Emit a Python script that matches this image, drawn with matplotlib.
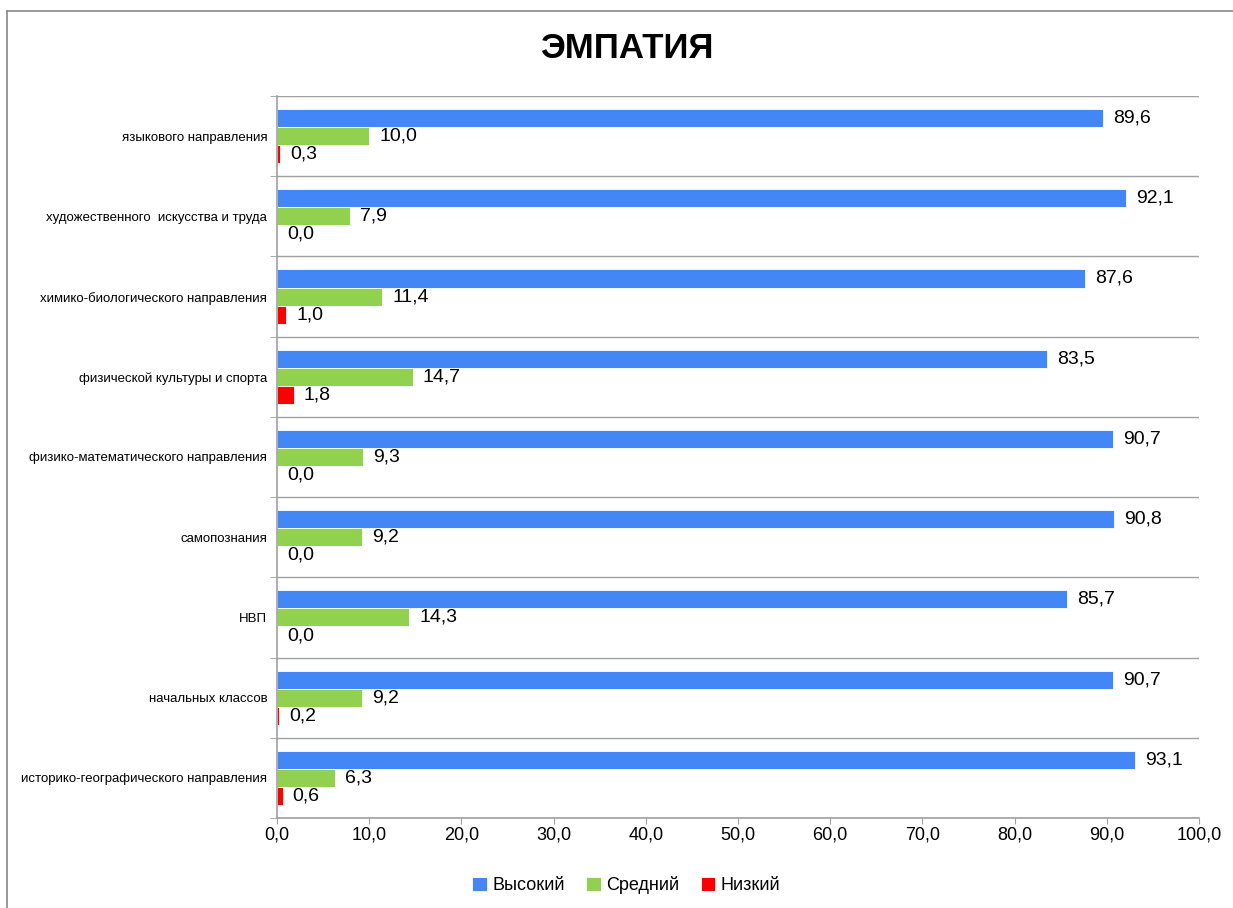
import numpy as np
import matplotlib.pyplot as plt
from matplotlib.lines import Line2D
from matplotlib.ticker import FuncFormatter

plt.rcParams['font.family'] = ['Liberation Sans', 'DejaVu Sans']

# categories from bottom to top
categories = [
    'историко-географического направления',
    'начальных классов',
    'НВП',
    'самопознания',
    'физико-математического направления',
    'физической культуры и спорта',
    'химико-биологического направления',
    'художественного  искусства и труда',
    'языкового направления',
]
high = [93.1, 90.7, 85.7, 90.8, 90.7, 83.5, 87.6, 92.1, 89.6]
mid = [6.3, 9.2, 14.3, 9.2, 9.3, 14.7, 11.4, 7.9, 10.0]
low = [0.6, 0.2, 0.0, 0.0, 0.0, 1.8, 1.0, 0.0, 0.3]
series_names = ['Высокий', 'Средний', 'Низкий']
colors = ['#4287F5', '#92D050', '#FF0000']

fig = plt.figure(figsize=(12.33, 9.08), dpi=100)
ax = fig.add_axes([0.2247, 0.0991, 0.9724 - 0.2247, 0.8943 - 0.0991])

y = np.arange(len(categories))
h = 0.225
grey = '#A0A0A0'

for vals, off, col, name in zip([high, mid, low], [h, 0, -h], colors, series_names):
    bars = ax.barh(y + off, vals, height=h, color=col, label=name,
                   edgecolor='white', linewidth=0.6)
    for b, v in zip(bars, vals):
        ax.text(v + 1.1, b.get_y() + h / 2, f'{v:.1f}'.replace('.', ','),
                va='center', ha='left', fontsize=14)

ax.set_xlim(0, 100)
ax.set_ylim(-0.5, len(categories) - 0.5)
ax.set_xticks(np.arange(0, 101, 10))
ax.xaxis.set_major_formatter(FuncFormatter(lambda v, p: f'{v:.1f}'.replace('.', ',')))
ax.tick_params(axis='x', labelsize=13, length=4.5, color=grey, pad=1.5)

ax.set_yticks(y)
ax.set_yticklabels(categories, fontsize=9.5)
ax.tick_params(axis='y', which='major', length=0, pad=7)
ax.set_yticks(np.arange(-0.5, len(categories), 1), minor=True)
ax.tick_params(axis='y', which='minor', length=5, color=grey)
ax.grid(axis='y', which='minor', color=grey, linewidth=1)
ax.set_axisbelow(True)

for s in ['top', 'right']:
    ax.spines[s].set_visible(False)
for s in ['left', 'bottom']:
    ax.spines[s].set_color(grey)
    ax.spines[s].set_linewidth(1.2)

fig.text(0.508, 0.947, 'ЭМПАТИЯ', ha='center', va='center', fontsize=25,
         fontweight='bold')

fig.legend(loc='center', bbox_to_anchor=(0.508, 0.025), ncol=3, frameon=False,
           fontsize=13, handlelength=0.8, handleheight=0.8, handletextpad=0.3,
           columnspacing=1.2)

# outer chart frame (only left and top visible)
fig.add_artist(Line2D([7 / 1233, 7 / 1233], [0, 1 - 11 / 908],
                      transform=fig.transFigure, color='#888888', linewidth=1.2))
fig.add_artist(Line2D([7 / 1233, 1], [1 - 11 / 908, 1 - 11 / 908],
                      transform=fig.transFigure, color='#888888', linewidth=1.2))

fig.savefig('out.png', dpi=100)
